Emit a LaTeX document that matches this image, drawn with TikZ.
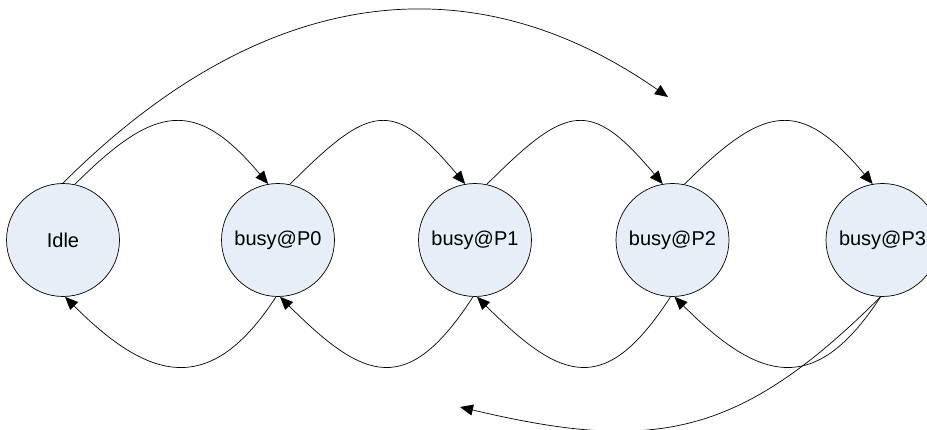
\documentclass[tikz,border=0pt]{standalone}
\usepackage{fontspec}
\setmainfont{Liberation Sans}
\usetikzlibrary{arrows.meta}
\definecolor{statefill}{RGB}{232,238,248}
\begin{document}
\begin{tikzpicture}[x=1pt,y=1pt,
  state/.style={circle,draw=black,line width=0.7pt,fill=statefill,minimum size=113pt,inner sep=0pt,font=\fontsize{20}{24}\selectfont},
  conn/.style={draw=black,line width=0.7pt,-{Triangle[length=13pt,width=11pt]}}]
\useasboundingbox (0,0) rectangle (927,429);
\node[state] (I) at (63,189) {Idle};
\node[state] (P0) at (278,189) {busy@P0};
\node[state] (P1) at (475,189) {busy@P1};
\node[state] (P2) at (672.5,189) {busy@P2};
\node[state] (P3) at (882.5,189) {busy@P3};
\coordinate (topend) at (668,332);
\coordinate (botend) at (460,22);
% forward arcs (top)
\draw[conn] (I.78) to[out=45,in=130,distance=113pt] (P0.100);
\draw[conn] (P0.78) to[out=45,in=130,distance=113pt] (P1.100);
\draw[conn] (P1.78) to[out=45,in=130,distance=113pt] (P2.100);
\draw[conn] (P2.78) to[out=45,in=130,distance=113pt] (P3.100);
% backward arcs (bottom)
\draw[conn] (P0.-92) to[out=237,in=-45,distance=120pt] (I.-88);
\draw[conn] (P1.-92) to[out=237,in=-45,distance=120pt] (P0.-88);
\draw[conn] (P2.-92) to[out=237,in=-45,distance=120pt] (P1.-88);
\draw[conn] (P3.-92) to[out=237,in=-45,distance=120pt] (P2.-88);
% long arcs
\draw[conn] (I.90) .. controls (254,437) and (463,475) .. (topend);
\draw[conn] (P3.-92) .. controls (739,-9) and (654,-24) .. (botend);
\end{tikzpicture}
\end{document}
